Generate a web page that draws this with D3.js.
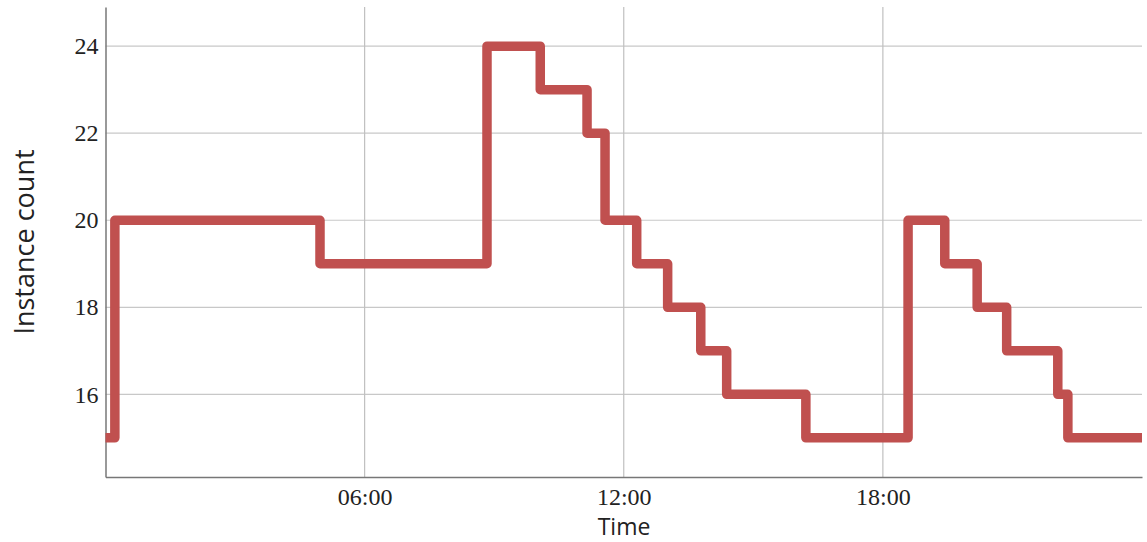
<!DOCTYPE html>
<html>
<head>
<meta charset="utf-8">
<script src="https://cdn.jsdelivr.net/npm/d3@7"></script>
<style>
  body { margin: 0; background: #fff; }
  .tick text { font-family: "Liberation Serif", serif; font-size: 24px; fill: #222; }
  .axis-title { font-family: "Open Sans", sans-serif; fill: #222; }
</style>
</head>
<body>
<div id="chart"></div>
<script>
// データ（時刻と台数）
const stepTimes = ["00:00", "00:13", "04:58", "08:50", "10:04", "11:09", "11:34", "12:18", "13:01",
  "13:47", "14:23", "16:13", "18:35", "19:26", "20:11", "20:52", "22:03", "22:17", "24:00"];
const instanceCounts = [15, 20, 19, 24, 23, 22, 20, 19, 18, 17, 16, 15, 20, 19, 18, 17, 16, 15, 15];
const yTicks = [16, 18, 20, 22, 24];
const xTickHours = [6, 12, 18];

const width = 1147;
const height = 542;
const margin = { top: 7, right: 5, bottom: 65, left: 105.5 };

// "HH:MM" -> Date (UTC)
const toDate = s => {
  const [h, m] = s.split(":").map(Number);
  return new Date(Date.UTC(2020, 0, 1, h, m));
};

const data = stepTimes.map((t, i) => ({ t: toDate(t), v: instanceCounts[i] }));

const svg = d3.select("#chart")
  .append("svg")
  .attr("width", width)
  .attr("height", height);

const xScale = d3.scaleUtc()
  .domain([toDate("00:00"), toDate("24:00")])
  .range([margin.left, width - margin.right]);
const yScale = d3.scaleLinear()
  .domain([14.1, 24.9])
  .range([height - margin.bottom, margin.top]);

// グリッド線
svg.append("g")
  .selectAll("line.hgrid")
  .data(yTicks)
  .join("line")
  .attr("x1", margin.left)
  .attr("x2", width - margin.right)
  .attr("y1", d => yScale(d))
  .attr("y2", d => yScale(d))
  .attr("stroke", "#c8c8c8")
  .attr("stroke-width", 1.2);

svg.append("g")
  .selectAll("line.vgrid")
  .data(xTickHours)
  .join("line")
  .attr("x1", d => xScale(new Date(Date.UTC(2020, 0, 1, d))))
  .attr("x2", d => xScale(new Date(Date.UTC(2020, 0, 1, d))))
  .attr("y1", margin.top)
  .attr("y2", height - margin.bottom)
  .attr("stroke", "#c0c0c0")
  .attr("stroke-width", 1.2);

// x軸
const xAxis = svg.append("g")
  .attr("transform", `translate(0, ${height - margin.bottom})`)
  .call(d3.axisBottom(xScale)
    .tickValues(xTickHours.map(h => new Date(Date.UTC(2020, 0, 1, h))))
    .tickFormat(d3.utcFormat("%H:%M"))
    .tickSize(0)
    .tickPadding(11));
xAxis.select(".domain").attr("stroke", "#777").attr("stroke-width", 1.5);

// y軸
const yAxis = svg.append("g")
  .attr("transform", `translate(${margin.left}, 0)`)
  .call(d3.axisLeft(yScale)
    .tickValues(yTicks)
    .tickSize(0)
    .tickPadding(7));
yAxis.select(".domain").attr("stroke", "#777").attr("stroke-width", 1.5);

// ステップライン
const line = d3.line()
  .x(d => xScale(d.t))
  .y(d => yScale(d.v))
  .curve(d3.curveStepAfter);

svg.append("path")
  .datum(data)
  .attr("d", line)
  .attr("fill", "none")
  .attr("stroke", "#c0504f")
  .attr("stroke-width", 9.5)
  .attr("stroke-linejoin", "round");

// 軸タイトル
svg.append("text")
  .attr("class", "axis-title")
  .attr("x", 624)
  .attr("y", 535)
  .attr("text-anchor", "middle")
  .style("font-size", "23px")
  .text("Time");

svg.append("text")
  .attr("class", "axis-title")
  .attr("transform", "translate(34, 242) rotate(-90)")
  .attr("text-anchor", "middle")
  .style("font-size", "27px")
  .text("Instance count");
</script>
</body>
</html>
